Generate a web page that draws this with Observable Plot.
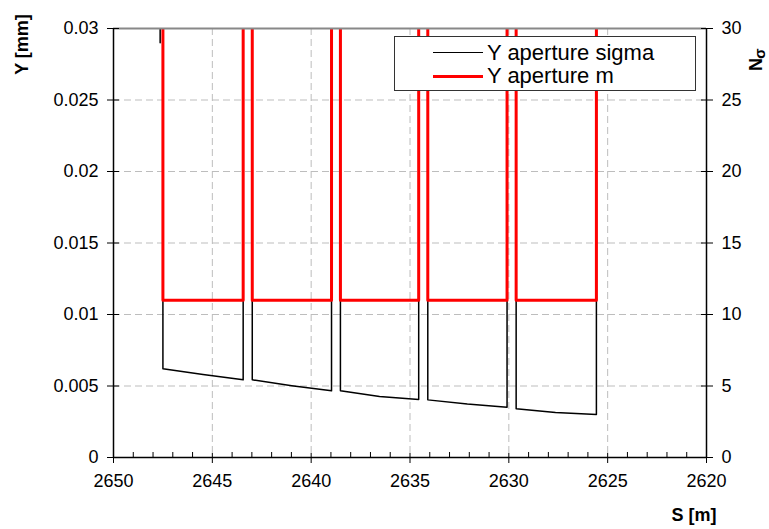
<!DOCTYPE html>
<html><head><meta charset="utf-8">
<script src="https://cdn.jsdelivr.net/npm/d3@7"></script>
<script src="https://cdn.jsdelivr.net/npm/@observablehq/plot@0.6"></script>
<style>
html,body{margin:0;padding:0;background:#fff;}
#wrap{position:relative;width:769px;height:529px;font-family:"Liberation Sans",Arial,sans-serif;}
#legend{position:absolute;left:394px;top:36px;width:302px;height:55px;border:1px solid #333;background:#fff;box-sizing:border-box;}
.swatch{position:absolute;left:38px;width:50px;}
.lab{position:absolute;left:92px;white-space:nowrap;font-size:22px;line-height:22px;color:#000;}
</style></head>
<body><div id="wrap"></div>
<script>
// Black series: Y aperture in units of sigma (right axis, Nσ)
const sigmaS = [2647.64, 2647.64, 2647.5, 2647.5, 2645.47, 2643.44, 2643.44, 2642.98, 2642.98, 2640.98, 2638.97, 2638.97, 2638.52, 2638.52, 2636.54, 2634.56, 2634.56, 2634.10, 2634.10, 2632.1, 2630.09, 2630.09, 2629.63, 2629.63, 2627.64, 2625.57, 2625.57];
const sigmaN = [29.0, 100, 100, 6.20, 5.80, 5.43, 100, 100, 5.43, 5.02, 4.66, 100, 100, 4.66, 4.27, 4.06, 100, 100, 4.03, 3.74, 3.52, 100, 100, 3.41, 3.15, 3.01, 100];
// Red series: Y aperture in metres (left axis)
const apertureS = [2647.5, 2647.5, 2643.44, 2643.44, 2642.98, 2642.98, 2638.97, 2638.97, 2638.52, 2638.52, 2634.56, 2634.56, 2634.10, 2634.10, 2630.09, 2630.09, 2629.63, 2629.63, 2625.57, 2625.57];
const apertureM = [1, 0.011, 0.011, 1, 1, 0.011, 0.011, 1, 1, 0.011, 0.011, 1, 1, 0.011, 0.011, 1, 1, 0.011, 0.011, 1];
// Axes
const xTicks = [2650, 2645, 2640, 2635, 2630, 2625, 2620];
const xMinor = d3.range(2649, 2620, -1).filter(v => v % 5 !== 0);
const yTicks = [0, 0.005, 0.01, 0.015, 0.02, 0.025, 0.03];
const yTickLabels = ["0", "0.005", "0.01", "0.015", "0.02", "0.025", "0.03"];
const nTickLabels = ["0", "5", "10", "15", "20", "25", "30"];
const sigmaPerUnit = 1000; // 30 Nσ ↔ 0.03 on the shared scale
const seriesNames = ["Y aperture sigma", "Y aperture m"];
const seriesColors = ["#000000", "#ff0000"];

const sigmaRows = sigmaS.map((s, i) => ({s, n: sigmaN[i]}));
const apRows = apertureS.map((s, i) => ({s, m: apertureM[i]}));
const font = '"Liberation Sans", Arial, sans-serif';

const chart = Plot.plot({
  width: 769, height: 529,
  marginLeft: 113, marginRight: 63, marginTop: 28, marginBottom: 72,
  style: {fontFamily: font, fontSize: "18px", color: "#000", background: "#fff", overflow: "visible"},
  x: {domain: [2650, 2620]},
  y: {domain: [0, 0.03]},
  marks: [
    Plot.gridX(xTicks.slice(1, -1), {stroke: "#bdbdbd", strokeOpacity: 1, strokeDasharray: "7,4"}),
    Plot.gridY(yTicks.slice(1, -1), {stroke: "#bdbdbd", strokeOpacity: 1, strokeDasharray: "7,4"}),
    Plot.line(sigmaRows, {x: "s", y: d => d.n / sigmaPerUnit, stroke: seriesColors[0], strokeWidth: 1.5, clip: true}),
    Plot.line(apRows, {x: "s", y: "m", stroke: seriesColors[1], strokeWidth: 3, clip: true}),
    Plot.ruleY([0.03], {stroke: "#888", strokeWidth: 2}),
    Plot.ruleX([2650], {stroke: "#000", strokeWidth: 1.5}),
    Plot.ruleX([2620], {stroke: "#000", strokeWidth: 1.5}),
    Plot.ruleY([0], {stroke: "#000", strokeWidth: 1.5}),
    // left axis
    Plot.axisY(yTicks, {anchor: "left", tickSize: 0, tickPadding: 15, tickFormat: (d, i) => yTickLabels[i], label: null}),
    Plot.axisY(yTicks, {anchor: "left", tickSize: 12, dx: 6, fill: "none", label: null}),
    // right axis
    Plot.axisY(yTicks, {anchor: "right", tickSize: 0, tickPadding: 15, tickFormat: (d, i) => nTickLabels[i], label: null}),
    Plot.axisY(yTicks, {anchor: "right", tickSize: 12, dx: -6, fill: "none", label: null}),
    // bottom axis
    Plot.axisX(xTicks, {anchor: "bottom", tickSize: 0, tickPadding: 17, tickFormat: d => String(d), label: null}),
    Plot.axisX(xTicks, {anchor: "bottom", tickSize: 10, dy: -4, fill: "none", label: null}),
    Plot.axisX(xMinor, {anchor: "bottom", tickSize: 5, dy: -5, fill: "none", label: null}),
    // axis titles
    Plot.text(["Y [mm]"], {frameAnchor: "top-left", dx: -91, dy: 16, rotate: -90, textAnchor: "middle", lineAnchor: "middle", fontWeight: "bold", fontSize: 18}),
    Plot.text(["S [m]"], {frameAnchor: "bottom-right", dx: 10, dy: 58, textAnchor: "end", lineAnchor: "middle", fontWeight: "bold", fontSize: 18}),
    Plot.text(["N"], {frameAnchor: "top-right", dx: 50, dy: 36, rotate: -90, textAnchor: "middle", lineAnchor: "middle", fontWeight: "bold", fontSize: 18}),
    Plot.text(["σ"], {frameAnchor: "top-right", dx: 54, dy: 25, rotate: -90, textAnchor: "middle", lineAnchor: "middle", fontWeight: "bold", fontSize: 15})
  ]
});

const wrap = document.getElementById("wrap");
wrap.appendChild(chart);
const legend = document.createElement("div");
legend.id = "legend";
seriesNames.forEach((name, i) => {
  const top = i === 0 ? 16 : 39;
  const sw = document.createElement("div");
  sw.className = "swatch";
  sw.style.top = (top - (i === 0 ? 0.75 : 1.5)) + "px";
  sw.style.borderTop = (i === 0 ? 1.5 : 3) + "px solid " + seriesColors[i];
  legend.appendChild(sw);
  const lab = document.createElement("div");
  lab.className = "lab";
  lab.style.top = (top - 11) + "px";
  lab.textContent = name;
  legend.appendChild(lab);
});
wrap.appendChild(legend);
</script></body></html>
